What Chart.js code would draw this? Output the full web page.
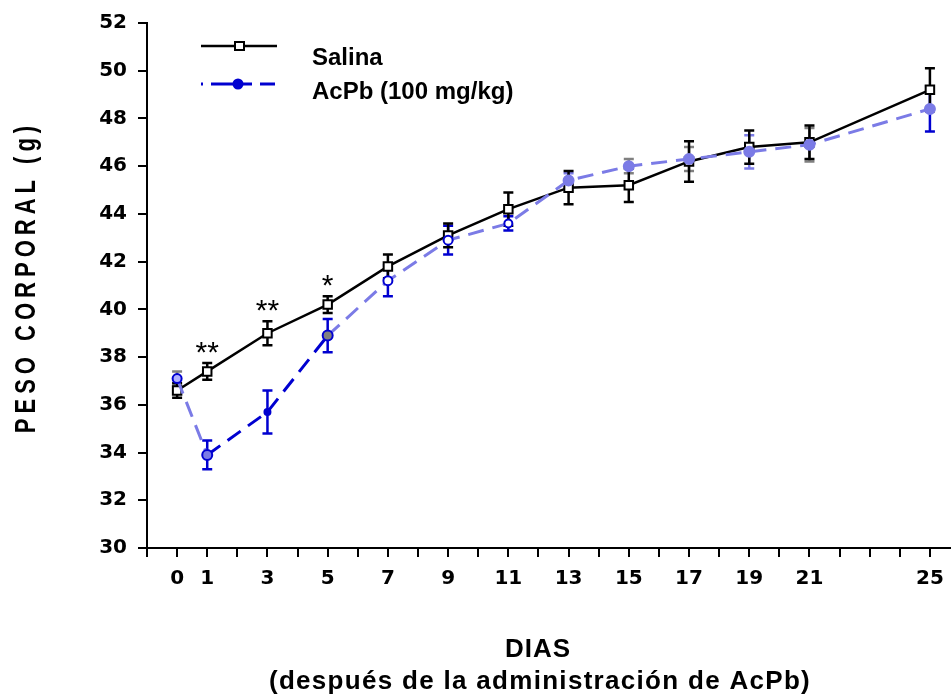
<!DOCTYPE html>
<html>
<head>
<meta charset="utf-8">
<script src="https://cdn.jsdelivr.net/npm/chart.js@4.4.0/dist/chart.umd.min.js"></script>
<style>
  html, body { margin: 0; padding: 0; background: #fff; overflow: hidden; }
  canvas { display: block; }
</style>
</head>
<body>
<canvas id="pesoChart" width="951" height="695"></canvas>
<script>
// datos
var dias = [0, 1, 3, 5, 7, 9, 11, 13, 15, 17, 19, 21, 25];
var diasEtiqueta = [0, 1, 3, 5, 7, 9, 11, 13, 15, 17, 19, 21, 25];
var salina = [36.6, 37.4, 39.0, 40.2, 41.8, 43.1, 44.2, 45.1, 45.2, 46.2, 46.8, 47.0, 49.2];
var salinaEE = [0.3, 0.35, 0.5, 0.35, 0.5, 0.5, 0.7, 0.7, 0.7, 0.85, 0.7, 0.7, 0.9];
var acpb = [37.1, 33.9, 35.7, 38.9, 41.2, 42.9, 43.6, 45.4, 46.0, 46.3, 46.6, 46.9, 48.4];
var acpbEE = [0.3, 0.6, 0.9, 0.7, 0.65, 0.6, 0.3, 0.3, 0.3, 0.5, 0.7, 0.7, 0.95];
var sigDias = [1, 3, 5];
var sigMarcas = ['**', '**', '*'];

var AZUL = '#0000d0';
var LAVANDA = '#7b7be6';
var GRIS = '#808080';
var FUENTE = '"Liberation Sans", Arial, sans-serif';

function puntos(xs, ys) {
	return xs.map(function(d, i){ return { x: d, y: ys[i] }; });
}

function texto(ctx, txt, x, y, font, align, base, espacio) {
	ctx.save();
	ctx.font = font;
	ctx.letterSpacing = (espacio || 0) + 'px';
	ctx.fillStyle = '#000';
	ctx.textAlign = align || 'left';
	ctx.textBaseline = base || 'middle';
	ctx.fillText(txt, x, y);
	ctx.restore();
}

// Barras de error (debajo de los marcadores)
var barrasError = {
	id: 'barrasError',
	beforeDatasetsDraw: function(chart) {
		var ctx = chart.ctx, ys = chart.scales.y;
		chart.data.datasets.forEach(function(ds, i) {
			var meta = chart.getDatasetMeta(i);
			meta.data.forEach(function(el, j) {
				var v = ds.data[j].y, e = ds.errores[j];
				var y1 = ys.getPixelForValue(v + e), y2 = ys.getPixelForValue(v - e);
				ctx.save();
				ctx.strokeStyle = Array.isArray(ds.colorError) ? ds.colorError[j] : ds.colorError;
				ctx.lineWidth = 2.5;
				ctx.beginPath();
				ctx.moveTo(el.x, y1); ctx.lineTo(el.x, y2);
				ctx.moveTo(el.x - 5, y1); ctx.lineTo(el.x + 5, y1);
				ctx.moveTo(el.x - 5, y2); ctx.lineTo(el.x + 5, y2);
				ctx.stroke();
				ctx.restore();
			});
		});
	}
};

// Leyenda, titulos de ejes y asteriscos
var textos = {
	id: 'textos',
	afterDraw: function(chart) {
		var ctx = chart.ctx, xs = chart.scales.x, ys = chart.scales.y;

		// leyenda
		ctx.save();
		ctx.strokeStyle = '#000';
		ctx.lineWidth = 2.5;
		ctx.beginPath(); ctx.moveTo(201, 46); ctx.lineTo(277, 46); ctx.stroke();
		ctx.fillStyle = '#fff';
		ctx.lineWidth = 2;
		ctx.fillRect(235, 42, 9, 8); ctx.strokeRect(235, 42, 9, 8);
		ctx.strokeStyle = AZUL;
		ctx.lineWidth = 3;
		ctx.beginPath();
		ctx.moveTo(201, 84); ctx.lineTo(203, 84);
		ctx.moveTo(211, 84); ctx.lineTo(252, 84);
		ctx.moveTo(260, 84); ctx.lineTo(275, 84);
		ctx.stroke();
		ctx.fillStyle = AZUL;
		ctx.beginPath(); ctx.arc(238, 84, 5.5, 0, Math.PI * 2); ctx.fill();
		ctx.restore();
		texto(ctx, 'Salina', 312, 58, 'bold 24px ' + FUENTE);
		texto(ctx, 'AcPb (100 mg/kg)', 312, 92, 'bold 24px ' + FUENTE);

		// asteriscos de significancia
		sigDias.forEach(function(d, k) {
			var j = dias.indexOf(d);
			var yTop = ys.getPixelForValue(salina[j] + salinaEE[j]);
			texto(ctx, sigMarcas[k], xs.getPixelForValue(d), yTop - 1, '30px ' + FUENTE, 'center', 'alphabetic');
		});

		// titulo eje X
		texto(ctx, 'DIAS', 538, 650, 'bold 26px ' + FUENTE, 'center', 'middle', 1);
		texto(ctx, '(después de la administración de AcPb)', 540, 682, 'bold 26px ' + FUENTE, 'center', 'middle', 1.3);

		// titulo eje Y
		ctx.save();
		ctx.translate(27, 277);
		ctx.scale(1.3, 1);
		ctx.rotate(-Math.PI / 2);
		ctx.font = 'bold 22px ' + FUENTE;
		ctx.letterSpacing = '5px';
		ctx.fillStyle = '#000';
		ctx.textAlign = 'center';
		ctx.textBaseline = 'middle';
		ctx.fillText('PESO CORPORAL (g)', 0, 0);
		ctx.restore();
	}
};

var ctx = document.getElementById('pesoChart').getContext('2d');
var pesoChart = new Chart(ctx, {
	type: 'line',
	data: {
		datasets: [{
			label: 'AcPb (100 mg/kg)',
			data: puntos(dias, acpb),
			errores: acpbEE,
			colorError: [GRIS, AZUL, AZUL, AZUL, AZUL, AZUL, AZUL, LAVANDA, GRIS, GRIS, LAVANDA, GRIS, AZUL],
			borderColor: LAVANDA,
			borderWidth: 3,
			borderDash: [16, 9],
			segment: {
				borderColor: function(c) { return (c.p0DataIndex === 1 || c.p0DataIndex === 2) ? AZUL : LAVANDA; }
			},
			pointStyle: 'circle',
			pointRadius: [4.5, 5, 3, 5, 4.5, 4.5, 4, 5, 5, 5, 5, 5, 5],
			pointBorderWidth: 2,
			pointBorderColor: [AZUL, AZUL, AZUL, AZUL, AZUL, AZUL, AZUL, LAVANDA, LAVANDA, LAVANDA, LAVANDA, LAVANDA, LAVANDA],
			pointBackgroundColor: ['#b0b0ff', LAVANDA, AZUL, GRIS, '#ffffff', '#ffffff', '#ffffff', LAVANDA, LAVANDA, LAVANDA, LAVANDA, LAVANDA, LAVANDA],
			tension: 0,
			clip: false
		}, {
			label: 'Salina',
			data: puntos(dias, salina),
			errores: salinaEE,
			colorError: '#000',
			borderColor: '#000',
			borderWidth: 2.5,
			pointStyle: 'rect',
			pointRadius: 6,
			pointBorderWidth: 2,
			pointBorderColor: '#000',
			pointBackgroundColor: '#fff',
			tension: 0,
			clip: false
		}]
	},
	options: {
		responsive: false,
		animation: false,
		layout: { autoPadding: false, padding: { top: 20, left: 0, right: 0, bottom: 0 } },
		plugins: {
			legend: { display: false },
			tooltip: { enabled: false }
		},
		scales: {
			x: {
				type: 'linear',
				min: -1,
				max: 25.7,
				afterBuildTicks: function(scale) {
					var t = [];
					for (var d = -1; d <= 25; d++) t.push({ value: d });
					scale.ticks = t;
				},
				afterFit: function(scale) {
					scale.height = 147;
					scale.paddingLeft = 0;
					scale.paddingRight = 0;
				},
				ticks: {
					autoSkip: false,
					maxRotation: 0,
					padding: 10,
					color: '#000',
					font: { family: 'DejaVu Sans', weight: 'bold', size: 20 },
					callback: function(v) { return diasEtiqueta.indexOf(v) >= 0 ? String(v) : ''; }
				},
				grid: { display: true, drawOnChartArea: false, tickLength: 9, color: '#000', lineWidth: 2 },
				border: { display: true, color: '#000', width: 2 }
			},
			y: {
				min: 30,
				max: 52,
				afterFit: function(scale) { scale.width = 147; },
				ticks: {
					stepSize: 2,
					padding: 11,
					color: '#000',
					font: { family: 'DejaVu Sans', weight: 'bold', size: 20 }
				},
				grid: { display: true, drawOnChartArea: false, tickLength: 9, color: '#000', lineWidth: 2 },
				border: { display: true, color: '#000', width: 2 }
			}
		}
	},
	plugins: [barrasError, textos]
});
</script>
</body>
</html>
